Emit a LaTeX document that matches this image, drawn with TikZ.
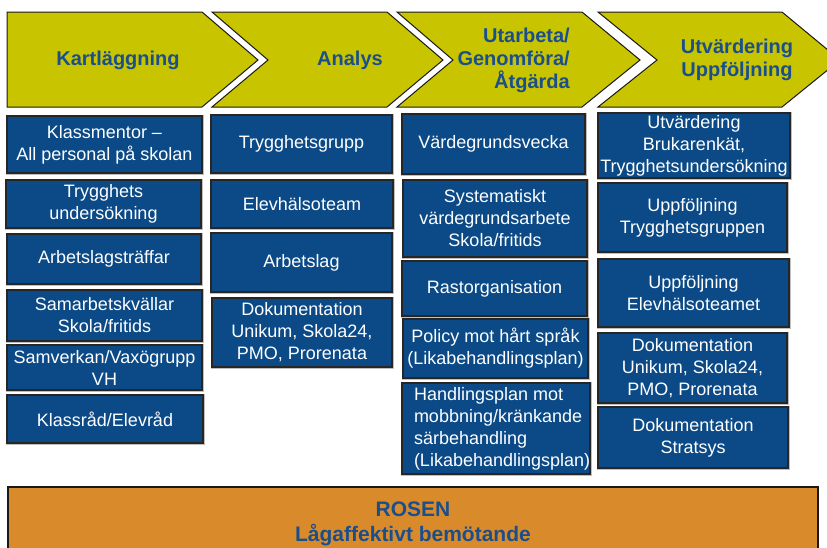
\documentclass[tikz,border=0pt]{standalone}
\usepackage{fontspec}
\setmainfont{Liberation Sans}
\definecolor{chevyellow}{RGB}{201,196,0}
\definecolor{headblue}{RGB}{26,79,140}
\definecolor{boxblue}{RGB}{11,74,134}
\definecolor{rosorange}{RGB}{217,139,43}
\begin{document}
\begin{tikzpicture}[x=1pt,y=-1pt,
  chev/.style={draw=black!90, line width=1pt, fill=chevyellow},
  chevtext/.style={text=headblue, font=\fontsize{20}{23}\selectfont\bfseries, inner sep=0pt},
  bx/.style={draw=black!85, line width=1.1pt, fill=boxblue, text=white,
    font=\fontsize{18}{22}\selectfont, align=center, inner sep=0pt,
    preaction={draw=black!25, line width=3pt}},
  rosbar/.style={draw=black!90, line width=1.2pt, fill=rosorange, text=headblue,
    font=\fontsize{21}{25}\selectfont\bfseries, align=center, inner sep=0pt}]
\useasboundingbox (0,0) rectangle (827,547);
\clip (0,0) rectangle (827,547);
% chevrons
\draw[chev] (7,12) -- (202,12) -- (258,60) -- (202,107) -- (7,107) -- cycle;
\draw[chev] (212,12) -- (387,12) -- (443,60) -- (387,107) -- (212,107) -- (268,60) -- cycle;
\draw[chev] (397,12) -- (582,12) -- (640,60) -- (582,107) -- (397,107) -- (453,60) -- cycle;
\draw[chev] (598,12) -- (782,12) -- (840,60) -- (782,107) -- (598,107) -- (657,60) -- cycle;
\node[chevtext] (h1) at (118,60) {Kartläggning};
\node[chevtext] (h2) at (350,60) {Analys};
\node[chevtext, anchor=east, align=right] (h3) at (570,60) {Utarbeta/\\Genomföra/\\Åtgärda};
\node[chevtext, align=center] (h4) at (737,60) {Utvärdering\\Uppföljning};
% column 1
\node[bx, minimum width=195pt, minimum height=57pt] (a1) at (104.5,144.5) {Klassmentor –\\All personal på skolan};
\node[bx, minimum width=195pt, minimum height=48pt] (a2) at (103.5,204) {Trygghets\\undersökning};
\node[bx, minimum width=194pt, minimum height=50pt] (a3) at (104,259) {Arbetslagsträffar};
\node[bx, minimum width=195pt, minimum height=51pt] (a4) at (104.5,315.5) {Samarbetskvällar\\Skola/fritids};
\node[bx, minimum width=195pt, minimum height=45pt] (a5) at (104.5,367.5) {Samverkan/Vaxögrupp\\VH};
\node[bx, minimum width=196pt, minimum height=48pt] (a6) at (105,419) {Klassråd/Elevråd};
% column 2
\node[bx, minimum width=181pt, minimum height=58pt] (b1) at (301.5,144) {Trygghetsgrupp};
\node[bx, minimum width=182pt, minimum height=48pt] (b2) at (302,204) {Elevhälsoteam};
\node[bx, minimum width=181pt, minimum height=59pt] (b3) at (301.5,262.5) {Arbetslag};
\node[bx, minimum width=180pt, minimum height=69pt] (b4) at (302,332.5) {Dokumentation\\Unikum, Skola24,\\PMO, Prorenata};
% column 3
\node[bx, minimum width=183pt, minimum height=60pt] (c1) at (493.5,144) {Värdegrundsvecka};
\node[bx, minimum width=184pt, minimum height=77pt] (c2) at (495,218.5) {Systematiskt\\värdegrundsarbete\\Skola/fritids};
\node[bx, minimum width=185pt, minimum height=55pt] (c3) at (494.5,288.5) {Rastorganisation};
\node[bx, minimum width=185pt, minimum height=59pt] (c4) at (495.5,348.5) {Policy mot hårt språk\\(Likabehandlingsplan)};
\node[bx, minimum width=188pt, minimum height=91pt] (c5) at (496,428.5) {\hspace*{12pt}\parbox[c]{176pt}{\raggedright Handlingsplan mot\\mobbning/kränkande\\särbehandling\\(Likabehandlingsplan)}};
% column 4
\node[bx, minimum width=192pt, minimum height=65pt] (d1) at (694,145.5) {Utvärdering\\Brukarenkät,\\Trygghetsundersökning};
\node[bx, minimum width=189pt, minimum height=69pt] (d2) at (692.5,217.5) {Uppföljning\\Trygghetsgruppen};
\node[bx, minimum width=191pt, minimum height=68pt] (d3) at (693.5,293) {Uppföljning\\Elevhälsoteamet};
\node[bx, minimum width=189pt, minimum height=70pt] (d4) at (692.5,368) {Dokumentation\\Unikum, Skola24,\\PMO, Prorenata};
\node[bx, minimum width=190pt, minimum height=61pt] (d5) at (693,437.5) {Dokumentation\\Stratsys};
% bottom bar
\node[rosbar, minimum width=810pt, minimum height=73pt] (rosen) at (413,523.5) {ROSEN\\Lågaffektivt bemötande};
\end{tikzpicture}
\end{document}
